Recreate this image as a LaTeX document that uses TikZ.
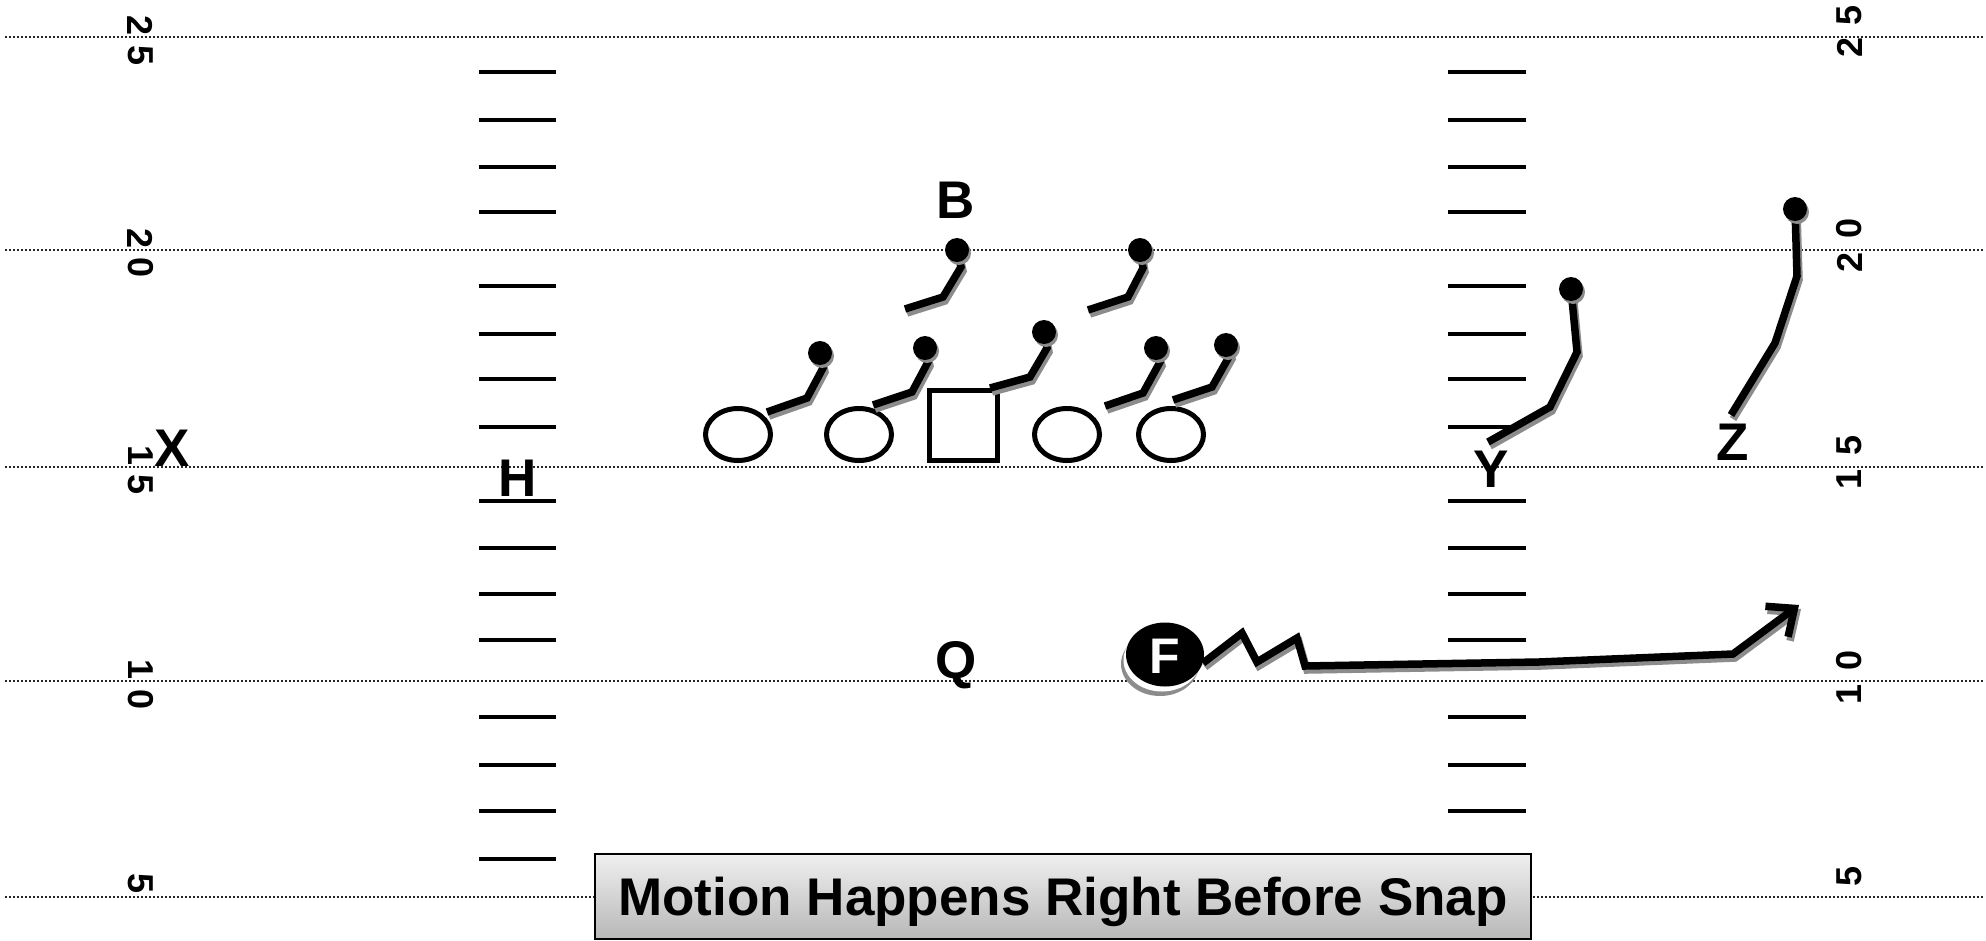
\documentclass[tikz,border=0pt]{standalone}
\usepackage{fontspec}
\setmainfont{Liberation Sans}
\usetikzlibrary{arrows.meta,shapes.geometric,shadings}
\newcommand\playroute[1]{\draw[rshadow] #1; \draw[route] #1;}
\newcommand\routedot[2]{\fill[black!45] (#1+2,#2+3) circle (12pt); \fill (#1,#2) circle (12pt);}
\begin{document}
\begin{tikzpicture}[x=1pt,y=-1pt,
  yardline/.style={draw=black!85, line width=2pt, dash pattern=on 2pt off 2pt},
  hashmark/.style={line width=4pt},
  ynum/.style={font=\fontsize{36}{36}\selectfont\bfseries, inner sep=0pt},
  lbl/.style={font=\fontsize{53}{53}\selectfont\bfseries, inner sep=0pt, anchor=base},
  lineman/.style={ellipse, draw, line width=5pt, minimum width=65pt, minimum height=52pt, inner sep=0pt},
  ctrbox/.style={rectangle, draw, line width=5pt, minimum width=68pt, minimum height=70pt, inner sep=0pt},
  route/.style={line width=7.5pt, draw=black},
  rshadow/.style={line width=7.5pt, draw=black!45, shift={(2,4)}},
  capbox/.style={rectangle, draw=black, line width=2.5pt, top color=black!6, bottom color=black!28,
     minimum width=936pt, minimum height=85pt, inner sep=0pt, text height=38pt, text depth=0pt,
     font=\fontsize{53}{53}\selectfont\bfseries}
]
\useasboundingbox (0,0) rectangle (1986,940);
% yard lines
\foreach \yy in {36.7,249.5,466.5,681,897}
  \draw[yardline] (5,\yy) -- (1984,\yy);
% hash marks
\foreach \yy in {72,120,167,212,286,334,379,427,501,548,594,640,717,765,811,859}{
  \draw[hashmark] (479,\yy) -- (556,\yy);
  \draw[hashmark] (1448,\yy) -- (1526,\yy);
}
% yard numbers, left
\node[ynum, rotate=-90] (l25a) at (140.5,25.7) {2};
\node[ynum, rotate=-90] (l25b) at (140.5,55.2) {5};
\node[ynum, rotate=-90] (l20a) at (140.5,238.5) {2};
\node[ynum, rotate=-90] (l20b) at (140.5,268) {0};
\node[ynum, rotate=-90] (l15a) at (140.5,455.5) {1};
\node[ynum, rotate=-90] (l15b) at (140.5,485) {5};
\node[ynum, rotate=-90] (l10a) at (140.5,670) {1};
\node[ynum, rotate=-90] (l10b) at (140.5,699.5) {0};
\node[ynum, rotate=-90] (l05) at (140.5,883) {5};
% yard numbers, right
\node[ynum, rotate=90] (r25a) at (1849.5,15.7) {5};
\node[ynum, rotate=90] (r25b) at (1849.5,47) {2};
\node[ynum, rotate=90] (r20a) at (1849.5,228.5) {0};
\node[ynum, rotate=90] (r20b) at (1849.5,262.5) {2};
\node[ynum, rotate=90] (r15a) at (1849.5,445.5) {5};
\node[ynum, rotate=90] (r15b) at (1849.5,479.5) {1};
\node[ynum, rotate=90] (r10a) at (1849.5,660) {0};
\node[ynum, rotate=90] (r10b) at (1849.5,694) {1};
\node[ynum, rotate=90] (r05) at (1849.5,876.5) {5};
% offensive line
\node[lineman] (lt) at (738,434.5) {};
\node[lineman] (lg) at (859,434.5) {};
\node[ctrbox] (c) at (963.5,425.5) {};
\node[lineman] (rg) at (1067,434.5) {};
\node[lineman] (rt) at (1171,434.5) {};
% blocking routes
\playroute{(767,412) -- (807,398) -- (823,368) -- (820,353)}
\routedot{820}{353}
\playroute{(873,405) -- (912,392) -- (928,362) -- (925,348)}
\routedot{925}{348}
\playroute{(990,388) -- (1030,377) -- (1047,348) -- (1044,332)}
\routedot{1044}{332}
\playroute{(1105,406) -- (1143,393) -- (1160,362) -- (1156,348)}
\routedot{1156}{348}
\playroute{(1173,400) -- (1212,387) -- (1230,355) -- (1226,345)}
\routedot{1226}{345}
\playroute{(905,309) -- (943,297) -- (961,267) -- (957,250)}
\routedot{957}{250}
\playroute{(1088,310) -- (1128,297) -- (1143,268) -- (1140,250)}
\routedot{1140}{250}
% Y and Z routes
\playroute{(1488,442) -- (1550,407) -- (1577,352) -- (1571,289)}
\routedot{1571}{289}
\playroute{(1731,415) -- (1775,343) -- (1797,276) -- (1795,209)}
\routedot{1795}{209}
% labels
\node[lbl] (X) at (172,466.5) {X};
\node[lbl] (H) at (518,496.5) {H};
\node[lbl] (B) at (956,218) {B};
\node[lbl] (Q) at (956,678) {Q};
\node[lbl] (Y) at (1491,487) {Y};
\node[lbl] (Z) at (1733,460) {Z};
% F with motion
\fill[black!45] (1160,664) ellipse [x radius=39, y radius=32];
\fill[white] (1162,660) ellipse [x radius=38.5, y radius=31.5];
\node[ellipse, fill=black, minimum width=78pt, minimum height=64pt, inner sep=0pt] (F) at (1165,654.5) {};
\node[lbl, text=white, font=\fontsize{50}{50}\selectfont\bfseries] (Ftxt) at (1165,673) {F};
\draw[rshadow, -{Straight Barb[length=22pt,width=38pt]}] (1203,663) -- (1242,633) -- (1257,662) -- (1297,638) -- (1305,666) -- (1539,662) -- (1733,654) -- (1799,605);
\draw[route, -{Straight Barb[length=22pt,width=38pt]}] (1203,663) -- (1242,633) -- (1257,662) -- (1297,638) -- (1305,666) -- (1539,662) -- (1733,654) -- (1799,605);
% caption
\node[capbox] (cap) at (1063,896.5) {Motion Happens Right Before Snap};
\end{tikzpicture}
\end{document}
